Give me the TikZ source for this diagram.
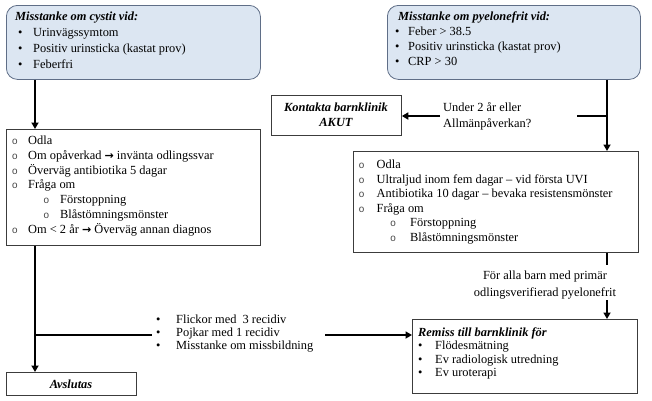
\documentclass[tikz,border=0pt]{standalone}
\usepackage{fontspec}
\setmainfont{Liberation Serif}
\newfontfamily\cour{Liberation Mono}
\newfontfamily\dv{DejaVu Sans}
\usetikzlibrary{arrows.meta}
\definecolor{bluefill}{RGB}{220,230,242}
\definecolor{blueline}{RGB}{95,110,135}
\definecolor{boxline}{RGB}{60,60,60}
\definecolor{bulgray}{RGB}{70,70,70}
\newcommand\bul[1]{\makebox[#1][l]{•}}
\newcommand\cir[1]{\makebox[#1][l]{\hspace*{0.8pt}{\cour\fontsize{10}{10}\selectfont\color{bulgray}o}}}
\newcommand\arr{{\dv\bfseries\fontsize{11}{11}\selectfont →}}
\tikzset{
  bluebox/.style={draw=blueline, fill=bluefill, line width=0.8pt, rounded corners=11pt, inner sep=0pt, anchor=north west},
  plainbox/.style={draw=boxline, line width=0.8pt, inner sep=0pt, anchor=north west},
  txt/.style={inner sep=0pt, font=\fontsize{12.4}{15}\selectfont},
  conn/.style={line width=2pt, black},
  arrconn/.style={conn, -{Triangle[width=7pt,length=6.5pt]}}
}
\begin{document}
\begin{tikzpicture}[x=1pt,y=-1pt]
\useasboundingbox (0,0) rectangle (652,400);
% boxes
\node[bluebox, minimum width=254pt, minimum height=74pt] (A) at (6,5) {};
\node[bluebox, minimum width=253pt, minimum height=74pt] (B) at (387,5) {};
\node[plainbox, minimum width=254pt, minimum height=116pt] (C) at (6,129) {};
\node[plainbox, minimum width=130pt, minimum height=40pt] (K) at (271,95) {};
\node[plainbox, minimum width=285pt, minimum height=101pt] (D) at (353,151) {};
\node[plainbox, minimum width=225pt, minimum height=74pt] (R) at (412,319) {};
\node[plainbox, minimum width=130pt, minimum height=23pt] (E) at (6,372) {};
% texts
\node[txt, anchor=base west, font=\fontsize{12.4}{16}\selectfont] (At) at (15,20.5) {\begin{tabular}[t]{@{}l@{}}
\textbf{\textit{Misstanke om cystit vid:}}\\
\hspace*{3pt}\bul{15pt}Urinvägssymtom\\
\hspace*{3pt}\bul{15pt}Positiv urinsticka (kastat prov)\\
\hspace*{3pt}\bul{15pt}Feberfri
\end{tabular}};
\node[txt, anchor=base west] (Bt) at (398,20.5) {\begin{tabular}[t]{@{}l@{}}
\textbf{\textit{Misstanke om pyelonefrit vid:}}\\
\hspace*{-3pt}\bul{13pt}Feber > 38.5\\
\hspace*{-3pt}\bul{13pt}Positiv urinsticka (kastat prov)\\
\hspace*{-3pt}\bul{13pt}CRP > 30
\end{tabular}};
\node[txt, anchor=base west, font=\fontsize{12.4}{14.8}\selectfont] (Ct) at (11,144.5) {\begin{tabular}[t]{@{}l@{}}
\cir{17pt}Odla\\
\cir{17pt}Om opåverkad \arr{} invänta odlingssvar\\
\cir{17pt}Överväg antibiotika 5 dagar\\
\cir{17pt}Fråga om\\
\hspace*{31.5pt}\cir{17.5pt}Förstoppning\\
\hspace*{31.5pt}\cir{17.5pt}Blåstömningsmönster\\
\cir{17pt}Om < 2 år \arr{} Överväg annan diagnos
\end{tabular}};
\node[txt, anchor=base, font=\fontsize{12.4}{15}\bfseries\itshape] (Kt) at (336,111.5) {\begin{tabular}[t]{@{}c@{}}
Kontakta barnklinik\\ AKUT
\end{tabular}};
\node[txt, anchor=base west, font=\fontsize{12.4}{15.5}\selectfont] (Ut) at (443,111.5) {\begin{tabular}[t]{@{}l@{}}
Under 2 år eller\\ Allmänpåverkan?
\end{tabular}};
\node[txt, anchor=base west, font=\fontsize{12.4}{14.6}\selectfont] (Dt) at (357.5,168.5) {\begin{tabular}[t]{@{}l@{}}
\cir{19pt}Odla\\
\cir{19pt}Ultraljud inom fem dagar – vid första UVI\\
\cir{19pt}Antibiotika 10 dagar – bevaka resistensmönster\\
\cir{19pt}Fråga om\\
\hspace*{31.5pt}\cir{21pt}Förstoppning\\
\hspace*{31.5pt}\cir{21pt}Blåstömningsmönster
\end{tabular}};
\node[txt, anchor=base, font=\fontsize{12.4}{17}\selectfont] (Ft) at (545,279.5) {\begin{tabular}[t]{@{}c@{}}
För alla barn med primär\\ odlingsverifierad pyelonefrit
\end{tabular}};
\node[txt, anchor=base west, font=\fontsize{12.4}{13.2}\selectfont] (Lt) at (156,323.5) {\begin{tabular}[t]{@{}l@{}}
\bul{20pt}Flickor med\ \ 3 recidiv\\
\bul{20pt}Pojkar med 1 recidiv\\
\bul{20pt}Misstanke om missbildning
\end{tabular}};
\node[txt, anchor=base west, font=\fontsize{12.4}{13.3}\selectfont] (Rt) at (418,336.5) {\begin{tabular}[t]{@{}l@{}}
\textbf{\textit{Remiss till barnklinik för}}\\
\bul{17pt}Flödesmätning\\
\bul{17pt}Ev radiologisk utredning\\
\bul{17pt}Ev uroterapi
\end{tabular}};
\node[txt, anchor=base, font=\fontsize{12.4}{15}\bfseries\itshape] (Et) at (71,388.5) {Avslutas};
% helper coordinates
\coordinate (lx) at (35,0);
\coordinate (rx) at (607,0);
\coordinate (j1) at (607,116);
\coordinate (u1) at (577,116);
\coordinate (u2) at (440,116);
\coordinate (f1) at (607,265);
\coordinate (f2) at (607,300);
\coordinate (j2) at (35,335);
\coordinate (b1) at (152,335);
\coordinate (b2) at (325,335);
% connectors
\draw[arrconn] (A.south -| lx) -- (C.north -| lx);
\draw[arrconn] (C.south -| lx) -- (E.north -| lx);
\draw[conn] (j2) -- (b1);
\draw[arrconn] (b2) -- (R.west |- b2);
\draw[arrconn] (B.south -| rx) -- (D.north -| rx);
\draw[conn] (j1) -- (u1);
\draw[arrconn] (u2) -- (K.east |- u2);
\draw[conn] (D.south -| rx) -- (f1);
\draw[arrconn] (f2) -- (R.north -| rx);
\end{tikzpicture}
\end{document}
